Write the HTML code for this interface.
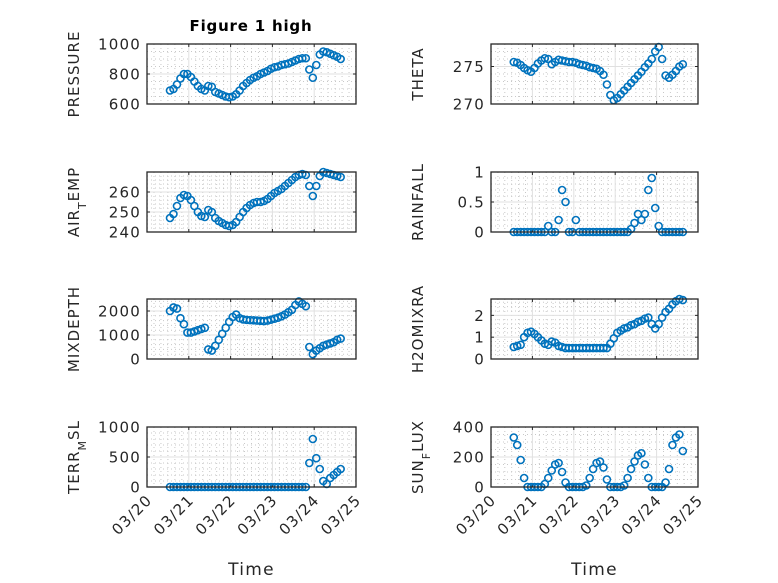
<!DOCTYPE html>
<html><head><meta charset="utf-8"><style>
html,body{margin:0;padding:0;background:#fff;}
svg{display:block;font-family:"DejaVu Sans","Liberation Sans",sans-serif;}
</style></head><body>
<svg id="fig" width="778" height="583" viewBox="0 0 778 583" xmlns="http://www.w3.org/2000/svg">
<rect width="778" height="583" fill="#fff"/>
<text x="251" y="31" text-anchor="middle" font-size="15" font-weight="bold" letter-spacing="0.8" fill="#000">Figure 1 high</text>
</svg>
<script>
const tStart = 0.55, tStep = 1/12;
const xTickLabels = ["03/20","03/21","03/22","03/23","03/24","03/25"];
const pressure = [690,700,730,770,800,800,780,750,720,700,690,720,715,680,670,660,650,645,650,665,690,720,740,760,775,785,800,810,820,835,845,850,860,865,870,880,890,900,905,905,830,775,860,930,950,945,935,925,915,900];
const theta = [275.6,275.5,275.2,274.8,274.5,274.3,274.8,275.4,275.8,276.1,276.0,275.3,275.6,275.9,275.8,275.7,275.6,275.6,275.5,275.3,275.2,275.1,274.9,274.8,274.7,274.4,273.9,272.6,271.2,270.5,270.8,271.3,271.8,272.3,272.8,273.3,273.8,274.3,274.9,275.4,276.0,277.0,277.6,276.0,273.8,273.5,273.9,274.4,275.0,275.3];
const airTemp = [247,249,253,257,258.5,258,256,253,250,248,247.5,251,250,247,245.5,244.5,243.5,243,243.5,245,247.5,250,252,253.5,254.5,255,255,255.5,256.5,258,259.5,260.5,261.5,263,264.5,266,267.5,268.5,269,268.5,263,258,263,268,270,269.5,269,268.5,268,267.5];
const rainfall = [0,0,0,0,0,0,0,0,0,0,0.1,0,0,0.2,0.7,0.5,0,0,0.2,0,0,0,0,0,0,0,0,0,0,0,0,0,0,0,0.05,0.15,0.3,0.2,0.3,0.7,0.9,0.4,0.1,0,0,0,0,0,0,0];
const mixDepth = [2000,2150,2100,1700,1450,1100,1100,1150,1200,1250,1300,400,350,550,800,1050,1300,1550,1750,1850,1700,1650,1630,1620,1610,1600,1590,1580,1600,1640,1680,1720,1780,1850,1950,2050,2250,2400,2300,2200,500,200,350,450,550,600,650,700,800,850];
const h2oMix = [0.55,0.6,0.65,1.0,1.2,1.25,1.15,1.0,0.85,0.7,0.65,0.8,0.75,0.6,0.55,0.5,0.5,0.5,0.5,0.5,0.5,0.5,0.5,0.5,0.5,0.5,0.5,0.5,0.7,0.95,1.2,1.3,1.4,1.45,1.55,1.6,1.7,1.75,1.85,1.9,1.6,1.4,1.6,1.9,2.15,2.3,2.5,2.65,2.75,2.7];
const terrMsl = [0,0,0,0,0,0,0,0,0,0,0,0,0,0,0,0,0,0,0,0,0,0,0,0,0,0,0,0,0,0,0,0,0,0,0,0,0,0,0,0,400,800,480,300,100,50,150,200,250,300];
const sunFlux = [330,280,180,60,0,0,0,0,0,20,60,110,150,160,100,30,0,0,0,0,0,10,60,120,160,170,130,50,0,0,0,0,10,60,120,170,210,225,150,60,0,0,0,0,30,120,280,330,350,240];

const NS="http://www.w3.org/2000/svg";
const svg=document.getElementById('fig');
function mk(tag,attrs,parent){const e=document.createElementNS(NS,tag);for(const k in attrs)e.setAttribute(k,attrs[k]);(parent||svg).appendChild(e);return e;}

const cols=[{x0:147,x1:356},{x0:491,x1:698}];
const rows=[44,172,299,427];
const H=60;
const panels=[
 {name:"pressure",data:pressure,col:0,row:0,ymin:600,ymax:1000,ticks:[600,800,1000],minor:50,label:[["PRESSURE",""]]},
 {name:"theta",data:theta,col:1,row:0,ymin:270,ymax:278,ticks:[270,275],minor:1,label:[["THETA",""]]},
 {name:"air-temp",data:airTemp,col:0,row:1,ymin:240,ymax:270,ticks:[240,250,260],minor:2,label:[["AIR",""],["T","sub"],["EMP",""]]},
 {name:"rainfall",data:rainfall,col:1,row:1,ymin:0,ymax:1,ticks:[0,0.5,1],minor:0.1,label:[["RAINFALL",""]]},
 {name:"mixdepth",data:mixDepth,col:0,row:2,ymin:0,ymax:2500,ticks:[0,1000,2000],minor:200,label:[["MIXDEPTH",""]]},
 {name:"h2omixra",data:h2oMix,col:1,row:2,ymin:0,ymax:2.75,ticks:[0,1,2],minor:0.2,label:[["H2OMIXRA",""]]},
 {name:"terr-msl",data:terrMsl,col:0,row:3,ymin:0,ymax:1000,ticks:[0,500,1000],minor:100,label:[["TERR",""],["M","sub"],["SL",""]]},
 {name:"sun-flux",data:sunFlux,col:1,row:3,ymin:0,ymax:400,ticks:[0,200,400],minor:50,label:[["SUN",""],["F","sub"],["LUX",""]]}
];

panels.forEach(p=>{
 const c=cols[p.col], y0=rows[p.row], y1=y0+H;
 const xs=t=>c.x0+(t/5)*(c.x1-c.x0);
 const ys=v=>y1-(v-p.ymin)/(p.ymax-p.ymin)*H;
 const g=mk('g',{});
 
 
 for(let k=1;k<30;k++){ if(k%6===0) continue; const x=xs(k/6);
  mk('line',{x1:x,x2:x,y1:y0,y2:y1,stroke:'#c8c8c8','stroke-width':1,'stroke-dasharray':'1,3'},g);}
 for(let v=p.ymin;v<=p.ymax+1e-9;v+=p.minor){ const vv=Math.round(v*1000)/1000; if(p.ticks.some(t=>Math.abs(t-vv)<1e-6)) continue;
  const y=ys(vv); if(y<=y0+0.5||y>=y1-0.5) continue;
  mk('line',{x1:c.x0,x2:c.x1,y1:y,y2:y,stroke:'#c8c8c8','stroke-width':1,'stroke-dasharray':'1,3'},g);}
 for(let d=1;d<5;d++){const x=xs(d); mk('line',{x1:x,x2:x,y1:y0,y2:y1,stroke:'#e0e0e0','stroke-width':1},g);}
 p.ticks.forEach(v=>{const y=ys(v); if(y>y0+0.5&&y<y1-0.5) mk('line',{x1:c.x0,x2:c.x1,y1:y,y2:y,stroke:'#e0e0e0','stroke-width':1},g);});
 for(let d=0;d<=5;d++){const x=xs(d); mk('line',{x1:x,x2:x,y1:y1,y2:y1-3,stroke:'#262626'},g); mk('line',{x1:x,x2:x,y1:y0,y2:y0+3,stroke:'#262626'},g);}
 p.ticks.forEach(v=>{const y=ys(v); mk('line',{x1:c.x0,x2:c.x0+3,y1:y,y2:y,stroke:'#262626'},g); mk('line',{x1:c.x1,x2:c.x1-3,y1:y,y2:y,stroke:'#262626'},g);
  const tl=mk('text',{x:c.x0-6,y:y+5.5,'text-anchor':'end','font-size':15,'letter-spacing':1.2,fill:'#262626'},g); tl.textContent=String(v);
  
  
 });
 p.data.forEach((v,i)=>{const t=tStart+i*tStep;
  const cc=mk('circle',{cx:xs(t),cy:ys(v),r:3.5,fill:'none',stroke:'#0072BD','stroke-width':1.6},g);
  
  
 });
 mk('rect',{x:c.x0,y:y0,width:c.x1-c.x0,height:H,fill:'none',stroke:'#262626','stroke-width':1.3},g);
 const lx=c.x0-68, ly=y0+H/2;
 const lab=mk('text',{x:0,y:0,transform:`translate(${lx},${ly}) rotate(-90)`,'text-anchor':'middle','font-size':15,'letter-spacing':1,fill:'#262626'},g);
 
 
 p.label.forEach(([s,k])=>{const ts=mk('tspan',{},lab); ts.textContent=s; if(k==='sub'){ts.setAttribute('font-size','11');ts.setAttribute('baseline-shift','sub');}});
 if(p.row===3){
  xTickLabels.forEach((s,d)=>{const x=xs(d);
   const tl=mk('text',{x:0,y:0,transform:`translate(${x+6},${y1+14}) rotate(-45)`,'text-anchor':'end','font-size':15,'letter-spacing':1.2,fill:'#262626'},g);
   tl.textContent=s;
   
   
  });
  const xl=mk('text',{x:(c.x0+c.x1)/2,y:575,'text-anchor':'middle','font-size':17,'letter-spacing':1.3,fill:'#262626'},g);
  xl.textContent='Time';
  
  
 }
});
</script>
</body></html>
